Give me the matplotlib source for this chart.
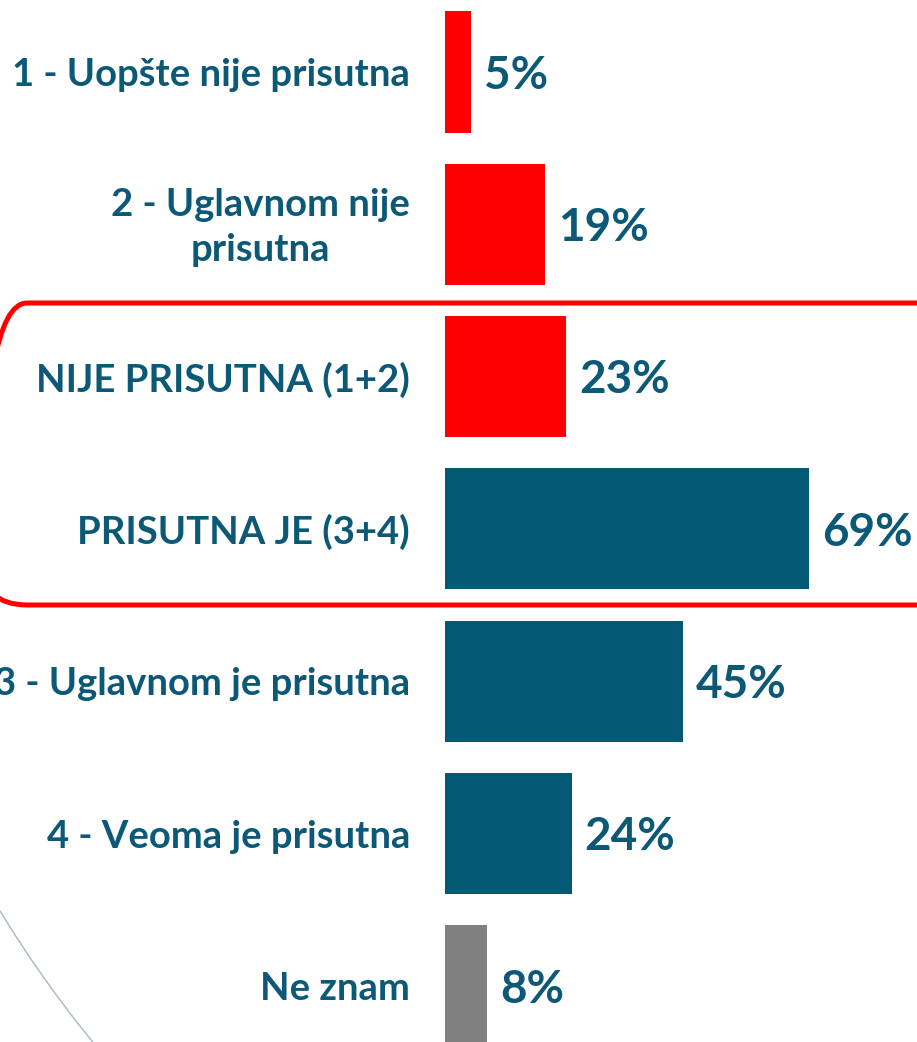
import matplotlib
matplotlib.use("Agg")
import matplotlib.pyplot as plt
from matplotlib.patches import FancyBboxPatch, Arc

# data
categories = [
    "1 - Uopšte nije prisutna",
    "2 - Uglavnom nije\nprisutna",
    "NIJE PRISUTNA (1+2)",
    "PRISUTNA JE (3+4)",
    "3 - Uglavnom je prisutna",
    "4 - Veoma je prisutna",
    "Ne znam",
]
values = [5, 19, 23, 69, 45, 24, 8]
value_labels = ["5%", "19%", "23%", "69%", "45%", "24%", "8%"]

RED = "#FF0000"
TEAL = "#045A75"
GREY = "#808080"
TXT = "#0B5877"
bar_colors = [RED, RED, RED, TEAL, TEAL, TEAL, GREY]

W, H = 917, 1042
fig = plt.figure(figsize=(W / 100, H / 100), dpi=100)

# overlay in pixel units for the decoration (box + arc)
deco = fig.add_axes([0, 0, 1, 1])
deco.set_xlim(0, W)
deco.set_ylim(H, 0)
deco.axis("off")
box = FancyBboxPatch((-18, 303), 1000, 302,
                     boxstyle="round,pad=0,rounding_size=45",
                     fill=False, edgecolor=RED, linewidth=3.6)
deco.add_patch(box)
deco.add_patch(Arc((995, 305), 2330, 2330, theta1=128, theta2=155,
                   color="#AAB6C8", linewidth=1.0))

# main bar chart
px_per_pct = 5.28
x0 = 445
ax = fig.add_axes([x0 / W, 0, (W - x0) / W, 1])
ax.set_facecolor("none")
ax.set_xlim(0, (W - x0) / px_per_pct)
ax.set_ylim(6.369, -0.473)
ax.axis("off")

ypos = list(range(len(categories)))
ax.barh(ypos, values, height=0.795, color=bar_colors)

for y, v, lab, cat in zip(ypos, values, value_labels, categories):
    ax.text(v + 13 / px_per_pct, y + 0.025, lab, ha="left", va="center",
            fontsize=33, fontweight="bold", color=TXT, family="Lato",
            clip_on=False)
    ax.text(-35 / px_per_pct, y + 0.02, cat, ha="right", va="center",
            multialignment="center", fontsize=27.5, fontweight="bold",
            color=TXT, family="Lato", linespacing=1.4, clip_on=False)

fig.savefig("out.png", dpi=100)
